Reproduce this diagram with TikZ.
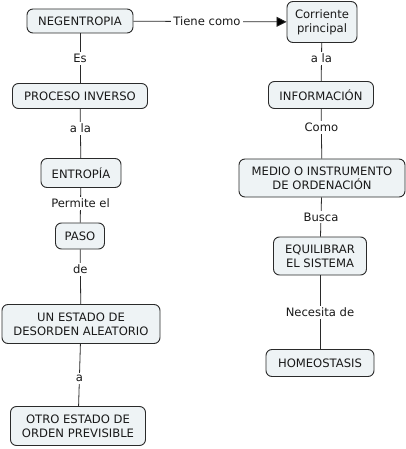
\documentclass[tikz,border=0pt]{standalone}
\usepackage{fontspec}
\setmainfont{DejaVu Sans}
\usetikzlibrary{arrows.meta}
\definecolor{boxfill}{HTML}{EEF3F5}
\definecolor{boxline}{HTML}{2A2A2A}
\tikzset{
  box/.style={draw=boxline, fill=boxfill, rounded corners=6pt, align=center,
    inner sep=0pt, line width=0.9pt, font=\fontsize{11.6}{14}\selectfont, text=black!90},
  lbl/.style={fill=white, inner sep=2pt, font=\fontsize{11.6}{14}\selectfont, text=black!90},
  conn/.style={draw=boxline, line width=0.8pt}
}
\begin{document}
\begin{tikzpicture}[x=1pt,y=-1pt]
\useasboundingbox (0,0) rectangle (406,449);
% left column
\node[box, minimum width=106pt, minimum height=24pt] (neg) at (80,21) {NEGENTROPIA};
\node[box, minimum width=135pt, minimum height=25pt] (proc) at (80,96) {PROCESO INVERSO};
\node[box, minimum width=80pt, minimum height=29pt] (ent) at (81,173) {ENTROPÍA};
\node[box, minimum width=49pt, minimum height=26pt] (paso) at (80,236) {PASO};
\node[box, minimum width=158pt, minimum height=39pt] (un) at (81,324) {UN ESTADO DE\\DESORDEN ALEATORIO};
\node[box, minimum width=135pt, minimum height=39pt] (otro) at (78,426) {OTRO ESTADO DE\\ORDEN PREVISIBLE};
% right column
\node[box, minimum width=70pt, minimum height=41pt] (corr) at (322,22) {Corriente\\principal};
\node[box, minimum width=105pt, minimum height=27pt] (info) at (321,95) {INFORMACIÓN};
\node[box, minimum width=166pt, minimum height=38pt] (medio) at (322,178) {MEDIO O INSTRUMENTO\\DE ORDENACIÓN};
\node[box, minimum width=93pt, minimum height=38pt] (equi) at (320,256) {EQUILIBRAR\\EL SISTEMA};
\node[box, minimum width=108pt, minimum height=27pt] (homeo) at (320,363) {HOMEOSTASIS};
% connectors
\draw[conn, -{Triangle[length=10pt,width=10pt,fill=black]}] (neg) -- node[lbl, pos=0.48] (l1) {Tiene como} (corr);
\draw[conn] (neg) -- node[lbl] (l2) {Es} (proc);
\draw[conn] (proc) -- node[lbl, pos=0.39] (l3) {a la} (ent);
\draw[conn] (ent) -- node[lbl, pos=0.44] (l4) {Permite el} (paso);
\draw[conn] (paso) -- node[lbl, pos=0.36] (l5) {de} (un);
\draw[conn] (un) -- node[lbl, pos=0.56] (l6) {a} (otro);
\draw[conn] (corr) -- node[lbl, pos=0.4] (l7) {a la} (info);
\draw[conn] (info) -- node[lbl, pos=0.37] (l8) {Como} (medio);
\draw[conn] (medio) -- node[lbl] (l9) {Busca} (equi);
\draw[conn] (equi) -- node[lbl] (l10) {Necesita de} (homeo);
\end{tikzpicture}
\end{document}
